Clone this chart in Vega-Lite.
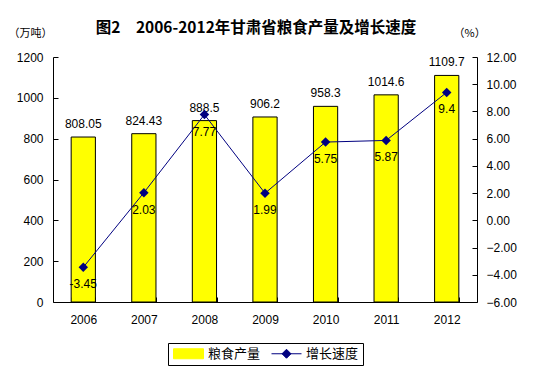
{
  "$schema": "https://vega.github.io/schema/vega-lite/v6.json",
  "autosize": "none",
  "width": 424,
  "height": 245,
  "padding": {"left": 53, "top": 57, "right": 83, "bottom": 73},
  "background": "white",
  "title": {
    "text": "图2　2006-2012年甘肃省粮食产量及增长速度",
    "font": "Noto Sans CJK SC",
    "fontSize": 15.5,
    "fontWeight": "bold",
    "color": "black",
    "anchor": "middle",
    "dx": -9,
    "offset": -9
  },
  "data": {
    "values": [
      {"year": "2006", "production": 808.05, "growth": -3.45},
      {"year": "2007", "production": 824.43, "growth": 2.03},
      {"year": "2008", "production": 888.5, "growth": 7.77},
      {"year": "2009", "production": 906.2, "growth": 1.99},
      {"year": "2010", "production": 958.3, "growth": 5.75},
      {"year": "2011", "production": 1014.6, "growth": 5.87},
      {"year": "2012", "production": 1109.7, "growth": 9.4}
    ]
  },
  "config": {
    "view": {"stroke": null},
    "axis": {
      "grid": false,
      "domainColor": "black",
      "domainWidth": 1,
      "tickColor": "black",
      "tickSize": -5,
      "labelFont": "Liberation Sans",
      "labelFontSize": 12,
      "labelColor": "black",
      "titleFont": "Noto Sans CJK SC",
      "titleFontSize": 11,
      "titleFontWeight": "normal",
      "titleColor": "black"
    },
    "text": {"font": "Liberation Sans", "fontSize": 12, "color": "black"}
  },
  "layer": [
    {
      "encoding": {
        "x": {
          "field": "year",
          "type": "nominal",
          "scale": {"paddingInner": 0.6, "paddingOuter": 0.3},
          "axis": {"title": null, "labelAngle": 0, "tickBand": "extent", "labelPadding": 17}
        },
        "y": {
          "field": "production",
          "type": "quantitative",
          "scale": {"domain": [0, 1200], "nice": false},
          "axis": {
            "values": [0, 200, 400, 600, 800, 1000, 1200],
            "format": "d",
            "title": "（万吨）",
            "titleAngle": 0,
            "titleAlign": "left",
            "titleBaseline": "middle",
            "titleX": -45,
            "titleY": -24,
            "labelPadding": 15
          }
        }
      },
      "layer": [
        {
          "mark": {"type": "bar", "stroke": "black", "strokeWidth": 1},
          "encoding": {
            "color": {
              "datum": "粮食产量",
              "type": "nominal",
              "scale": {"domain": ["粮食产量", "增长速度"], "range": ["#FFFF00", "#000080"]},
              "legend": {
                "title": null,
                "orient": "none",
                "legendX": 115,
                "legendY": 286,
                "direction": "horizontal",
                "strokeColor": "black",
                "padding": 4,
                "columnPadding": 8,
                "labelOffset": 23,
                "labelFont": "Noto Sans CJK SC",
                "labelFontSize": 13,
                "labelColor": "black",
                "symbolSize": 100,
                "symbolStrokeWidth": 1,
                "symbolType": {"expr": "datum.value === '粮食产量' ? 'M-1,-1H5V1H-1Z' : 'M-1,0H5M2,-0.9L2.9,0L2,0.9L1.1,0Z'"},
                "symbolStrokeColor": {"expr": "datum.value === '粮食产量' ? 'black' : '#000080'"},
                "symbolFillColor": {"expr": "datum.value === '粮食产量' ? '#FFFF00' : '#000080'"}
              }
            }
          }
        },
        {
          "mark": {"type": "text", "baseline": "bottom", "dy": -6},
          "encoding": {"text": {"field": "production", "type": "nominal"}}
        }
      ]
    },
    {
      "encoding": {
        "x": {
          "field": "year",
          "type": "nominal",
          "scale": {"paddingInner": 0.6, "paddingOuter": 0.3},
          "axis": {"title": null, "labelAngle": 0, "tickBand": "extent", "labelPadding": 17}
        },
        "y": {
          "field": "growth",
          "type": "quantitative",
          "scale": {"domain": [-6, 12], "nice": false},
          "axis": {
            "orient": "right",
            "values": [-6, -4, -2, 0, 2, 4, 6, 8, 10, 12],
            "format": ".2f",
            "title": "（%）",
            "titleAngle": 0,
            "titleAlign": "left",
            "titleBaseline": "middle",
            "titleX": -24,
            "titleY": -24,
            "labelPadding": 14
          }
        }
      },
      "layer": [
        {
          "mark": {"type": "line", "strokeWidth": 1},
          "encoding": {"color": {"datum": "增长速度", "type": "nominal", "legend": null}}
        },
        {
          "mark": {"type": "point", "shape": "diamond", "filled": true, "size": 90, "opacity": 1},
          "encoding": {"color": {"datum": "增长速度", "type": "nominal", "legend": null}}
        },
        {
          "mark": {"type": "text", "baseline": "middle", "dy": 17},
          "encoding": {"text": {"field": "growth", "type": "nominal"}}
        }
      ]
    }
  ],
  "resolve": {"scale": {"y": "independent"}}
}
